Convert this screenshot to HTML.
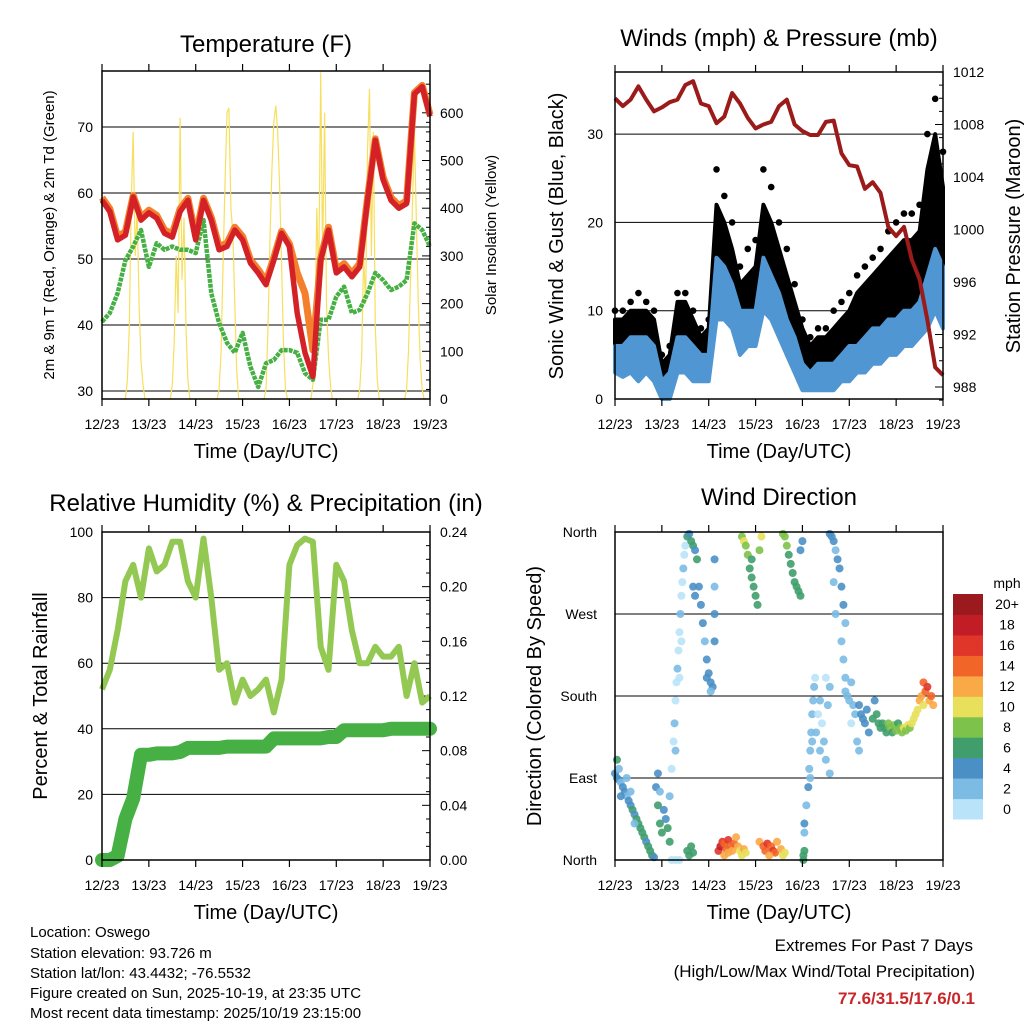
<!DOCTYPE html>
<html><head><meta charset="utf-8"><title>Oswego Station Meteogram</title>
<style>
html,body{margin:0;padding:0;background:#fff;}
svg{display:block;font-family:"Liberation Sans",Arial,sans-serif;}
</style></head>
<body>
<svg id="root" width="1024" height="1024" viewBox="0 0 1024 1024" xmlns="http://www.w3.org/2000/svg">
<rect x="0" y="0" width="1024" height="1024" fill="#fff"/>
<g id="p1"></g>
<g id="p2"></g>
<g id="p3"></g>
<g id="p4"></g>
<g id="titles">
<text x="266" y="52" font-size="24" text-anchor="middle">Temperature (F)</text>
<text x="779" y="46" font-size="24" text-anchor="middle">Winds (mph) &amp; Pressure (mb)</text>
<text x="266" y="511" font-size="24" text-anchor="middle">Relative Humidity (%) &amp; Precipitation (in)</text>
<text x="779" y="505" font-size="24" text-anchor="middle">Wind Direction</text>
<text x="266" y="458" font-size="20" text-anchor="middle">Time (Day/UTC)</text>
<text x="779" y="458" font-size="20" text-anchor="middle">Time (Day/UTC)</text>
<text x="266" y="919" font-size="20" text-anchor="middle">Time (Day/UTC)</text>
<text x="779" y="919" font-size="20" text-anchor="middle">Time (Day/UTC)</text>
<text transform="translate(54,235) rotate(-90)" font-size="15" text-anchor="middle">2m &amp; 9m T (Red, Orange) &amp; 2m Td (Green)</text>
<text transform="translate(496,235) rotate(-90)" font-size="15" text-anchor="middle">Solar Insolation (Yellow)</text>
<text transform="translate(563,236) rotate(-90)" font-size="20" text-anchor="middle">Sonic Wind &amp; Gust (Blue, Black)</text>
<text transform="translate(1020,236) rotate(-90)" font-size="20" text-anchor="middle">Station Pressure (Maroon)</text>
<text transform="translate(47,696) rotate(-90)" font-size="20" text-anchor="middle">Percent &amp; Total Rainfall</text>
<text transform="translate(541,696) rotate(-90)" font-size="20" text-anchor="middle">Direction (Colored By Speed)</text>
<g font-size="15">
<text x="30" y="937">Location: Oswego</text>
<text x="30" y="958">Station elevation: 93.726 m</text>
<text x="30" y="978">Station lat/lon: 43.4432; -76.5532</text>
<text x="30" y="998">Figure created on Sun, 2025-10-19, at 23:35 UTC</text>
<text x="30" y="1018">Most recent data timestamp: 2025/10/19 23:15:00</text>
</g>
<text x="973" y="951" font-size="17" text-anchor="end">Extremes For Past 7 Days</text>
<text x="975" y="977" font-size="17" text-anchor="end">(High/Low/Max Wind/Total Precipitation)</text>
<text x="975" y="1004" font-size="17" font-weight="bold" fill="#c8262a" text-anchor="end">77.6/31.5/17.6/0.1</text>
</g>
</svg>
<script>
// ---------- data (4-hour steps, t = 0..168 h) ----------
var dayLabels = ["12/23","13/23","14/23","15/23","16/23","17/23","18/23","19/23"];
var temp2m = [58.9,57.2,52.9,53.6,59.4,55.9,57,56.2,53.9,53.3,57.2,58.9,52.9,58.9,55.9,51.4,51.9,54.4,52.9,49.4,47.9,46.1,49.8,53.9,51.9,41.8,35.8,32.2,49.8,54.4,47.9,48.8,47.3,48.8,58.9,68,62,58.9,57.7,58.4,75,76.1,71.6];
var temp9m = [59.3,57.6,53.4,54.1,59.6,56.3,57.4,56.6,54.4,53.8,57.6,59.2,53.4,59.2,56.3,51.9,52.4,54.8,53.4,49.9,48.4,46.6,50.2,54.2,52.3,47.9,44.8,36.2,50.2,54.8,48.4,49.3,47.8,49.3,59.2,68.2,62.4,59.3,58.1,58.8,75.2,76.3,71.9];
var dewpoint = [40.5,41.8,44.8,49.8,51.9,54.4,48.8,52.4,51.4,51.9,51.4,51.4,50.9,55.9,44.8,40.3,37.3,35.8,38.8,33.7,30.6,34.2,34.7,36.2,36.2,35.8,32.7,31.7,40.8,40.8,44.3,45.8,41.8,42.3,44.8,47.9,46.8,45.3,45.8,46.8,55.4,54.4,51.9];
// solar insolation, hourly for hours 11..23 of each day
var solarDay0 = [0,0,40,150,420,560,300,400,200,80,30,0,0];
var solarDay1 = [0,30,120,300,180,590,250,380,150,40,0,0,0];
var solarDay2 = [0,20,100,280,450,600,610,400,350,200,60,0,0];
var solarDay3 = [0,20,150,330,480,580,615,560,440,280,110,20,0];
var solarDay4 = [0,30,120,400,250,685,300,600,200,90,30,0,0];
var solarDay5 = [0,20,90,300,200,520,650,300,560,150,40,0,0];
var solarDay6 = [0,20,100,250,400,560,380,200,80,20,0,0,0];
var pressure = [1010.0,1009.4,1009.9,1010.9,1009.9,1009.0,1009.3,1009.7,1009.9,1011.0,1011.3,1009.6,1009.4,1008.1,1008.6,1010.4,1009.6,1008.5,1007.7,1008.0,1008.2,1009.4,1009.9,1008.0,1007.5,1007.2,1007.2,1008.2,1008.3,1005.8,1004.9,1004.8,1003.1,1003.6,1002.8,1000.2,999.5,1000.2,997.7,996.2,993.1,989.5,988.9];
var windLow  = [3,2.5,3,2,3,2,0,0,3,3,2,2,2,9,9,8,5,6,6,10,9,7,5,3,1,1,1,1,1,2,2,3,3,4,4,5,5,6,6,7,8,10,8];
var windHigh = [6,6,7,7,7,6,2,3,7,7,6,5,5,16,15,13,10,10,10,16,14,12,9,7,4,3,4,4,4,5,6,6,7,8,8,9,9,10,10,11,14,17,15];
var gustLow  = [5,5,5,5,6,4,1,1,6,6,4,3,4,14,14,11,8,9,9,16,14,11,8,6,3,2,3,3,4,4,4,5,6,7,7,8,8,9,9,10,14,16,15];
var gustHigh = [9,9,10,10,10,9,4,5,11,11,9,7,8,22,20,17,13,14,15,22,20,17,14,11,8,6,7,7,8,9,10,12,13,14,15,16,17,18,18,19,26,30,24];
var gustMax  = [10,10,11,12,11,10,5,6,12,12,10,8,9,26,23,20,15,17,18,26,24,20,17,13,9,7,8,8,10,11,12,14,15,16,17,19,20,21,21,22,30,34,28];
var rhValues = [52,58,70,85,90,80,95,88,90,97,97,85,80,98,80,58,60,48,55,50,52,55,45,55,90,96,98,97,65,58,90,85,70,60,60,65,62,62,65,50,60,48,50];
var precipTotal = [0,0,0.003,0.03,0.045,0.077,0.077,0.078,0.078,0.078,0.079,0.082,0.082,0.082,0.082,0.082,0.083,0.083,0.083,0.083,0.083,0.083,0.089,0.089,0.089,0.089,0.089,0.089,0.089,0.09,0.09,0.095,0.095,0.095,0.095,0.095,0.095,0.096,0.096,0.096,0.096,0.096,0.096];
// wind direction scatter: time (h), direction (deg), speed (mph)
var dirTime = [0,1,2,3,4,5,6,7,8,9,10,11,12,13,14,15,16,17,18,19,20,1,2,3,6,8,10,
 21,22,23,24,25,26,27,28,22,23,
 28,29,30,30.5,31,31.5,32,32.5,33,33.5,34,34.5,35,35.5,36,31,33,34,29,31,33,
 37,38,39,40,41,42,40,41,37,38,39,40,
 43,44,45,46,47,48,49,50,51,51,51,51,47,49,
 53,54,55,56,57,58,59,60,61,62,63,64,65,66,67,56,58,
 65,66,67,68,69,70,71,72,73,74,75,70,
 74,76,77,78,80,81,82,83,85,86,87,79,
 86,87,88,89,90,91,92,93,94,95,95,96,
 96.5,97,97,96.5,
 97,98,99,99.5,100,100.5,101,101.5,102,102.5,100,101,
 103,104,105,106,107,108,109,110,105,108,110,
 110,111,112,113,114,115,116,117,118,112,116,117,118,113,
 118,119,120,121,122,123,124,125,121,
 125,126,127,128,129,130,132,133,134,135,136,
 137,138,139,140,141,142,143,144,145,146,147,148,149,150,151,152,153,154,
 155,156,157,158,159,160,161,162,163,158];
var dirDeg = [95,90,88,85,80,75,70,65,60,55,50,45,40,35,30,25,20,15,10,5,3,110,100,70,90,75,40,
 80,60,40,30,55,45,35,20,95,75,
 70,100,130,150,175,195,210,230,250,270,290,305,320,335,345,120,200,240,0,0,0,
 355,358,350,345,340,330,300,290,10,5,15,8,
 300,280,260,240,220,205,195,190,240,270,300,330,200,185,
 10,15,20,18,12,22,15,10,18,25,15,10,5,12,8,5,8,
 355,350,345,335,320,310,300,290,280,340,355,330,
 20,15,10,18,15,10,8,20,12,5,8,5,
 358,355,345,335,325,315,305,300,295,290,340,350,
 0,10,40,5,
 30,60,80,100,120,140,160,175,190,200,90,130,
 140,160,175,150,130,110,170,190,120,200,95,
 358,355,350,340,330,320,300,280,260,305,240,220,200,270,
 185,180,175,195,170,160,130,120,150,
 170,160,155,150,165,140,155,175,160,150,145,
 150,145,140,150,145,140,148,142,150,145,140,145,142,148,145,150,155,160,
 165,175,180,195,185,190,175,180,170,170];
var dirSpeed = [4,5,4,3,4,4,3,5,4,6,5,6,7,6,7,6,5,7,6,6,5,6,3,4,3,3,2,
 5,6,6,7,4,4,7,6,4,3,
 2,1,1,2,1,1,2,1,1,2,1,1,2,1,1,2,1,1,1,1,1,
 6,5,6,6,5,6,5,4,6,6,7,6,
 4,4,4,3,4,5,4,4,4,4,3,4,4,3,
 16,18,17,15,14,16,15,13,14,12,13,11,10,12,11,13,12,
 9,10,9,8,7,7,6,7,6,8,10,7,
 12,14,15,16,15,16,14,12,13,11,10,13,
 8,9,8,7,7,6,7,7,6,6,5,5,
 6,6,5,6,
 3,3,4,3,2,3,2,2,2,1,3,3,
 2,1,2,1,2,3,2,3,2,1,2,
 4,4,4,3,4,4,5,5,3,3,2,2,2,2,
 2,2,2,2,3,3,3,2,1,
 4,4,4,4,5,4,6,5,6,7,6,
 7,7,7,8,8,7,8,9,7,8,9,10,9,10,9,10,10,11,
 11,12,13,14,15,16,13,14,12,10];
var speedColors = ["#b8e3f8","#7bbbe4","#4a90c5","#3f9e6b","#7dc24b","#e8e05a","#f9a945","#f26529","#e0362a","#c21d26","#9b1a1e"];
var speedLabels = ["0","2","4","6","8","10","12","14","16","18","20+"];
var tempTicks = [30,40,50,60,70];
var solarTicks = [0,100,200,300,400,500,600];
var windTicks = [0,10,20,30];
var pressTicks = [988,992,996,1000,1004,1008,1012];
var rhTicks = [0,20,40,60,80,100];
var precipTicks = ["0.00","0.04","0.08","0.12","0.16","0.20","0.24"];
var dirTicks = [0,90,180,270,360];
var dirTickLabels = ["North","East","South","West","North"];

// ---------- helpers ----------
var NS = "http://www.w3.org/2000/svg";
function mk(tag, parent){ var e = document.createElementNS(NS, tag); parent.appendChild(e); return e; }
function sa(e, o){ for (var k in o) e.setAttribute(k, o[k]); return e; }
var STEP = 4;
function X1(t){ return 102 + t*328/168; }
function X2(t){ return 615 + t*328/168; }
function yT(v){ return 391 - (v-30)*6.6; }
function ySol(v){ return 399 - v*0.477; }
function yW(v){ return 399 - v*8.83; }
function yP(v){ return 387 - (v-988)*13.125; }
function yRH(v){ return 860 - v*3.28; }
function yPr(v){ return 860 - v*1366.7; }
function yD(d){ return 860 - d*328/360; }
function pts(arr, xf, yf){ return arr.map(function(v,i){ return xf(i*STEP).toFixed(1)+","+yf(v).toFixed(1); }).join(" "); }

function frame(g, x, y, w, h, xf, bottom, top, name){
  var r = mk("rect", g);
  sa(r, {x:x, y:y, width:w, height:h, fill:"none", stroke:"#000", "stroke-width":1.5});
  
  
  for (var d=0; d<=7; d++){
    var tx = xf(d*24);
    var t1 = mk("line", g);
    sa(t1, {x1:tx, x2:tx, y1:bottom, y2:bottom+7, stroke:"#000", "stroke-width":1.2});
    
    
    var t2 = mk("line", g);
    sa(t2, {x1:tx, x2:tx, y1:top, y2:top-7, stroke:"#000", "stroke-width":1.2});
    
    
    var lb = mk("text", g);
    sa(lb, {x:tx, y:bottom+30, "font-size":14, "text-anchor":"middle"});
    lb.textContent = dayLabels[d];
    
    
  }
}
function hgrid(g, x0, x1, y, name){
  var l = mk("line", g);
  sa(l, {x1:x0, x2:x1, y1:y, y2:y, stroke:"#000", "stroke-width":1});
  
  
}
function label(g, x, y, txt, anchor, name){
  var t = mk("text", g);
  sa(t, {x:x, y:y+5, "font-size":14, "text-anchor":anchor});
  t.textContent = txt;
  
  
}
function rtick(g, x, y, len){
  var l = mk("line", g);
  sa(l, {x1:x, x2:x-len, y1:y, y2:y, stroke:"#000", "stroke-width":1});
  
  
}

// ---------- panel 1: temperature ----------
(function(){
  var g = document.getElementById("p1");
  tempTicks.forEach(function(v){ hgrid(g,102,430,yT(v),'temp-gridline'); label(g,93,yT(v),String(v),"end",'temp-tick-label'); });
  solarTicks.forEach(function(v){ rtick(g,430,ySol(v),8); label(g,440,ySol(v),String(v),"start",'solar-tick-label'); });
  for (var s=20; s<680; s+=20){ if (s%100) rtick(g,430,ySol(s),4); }
  var solarDays = [solarDay0,solarDay1,solarDay2,solarDay3,solarDay4,solarDay5,solarDay6];
  var sp = [];
  solarDays.forEach(function(arr,d){ arr.forEach(function(v,h){ sp.push(X1(d*24+11+h).toFixed(1)+","+ySol(v).toFixed(1)); }); });
  var sl = mk("polyline", g);
  sa(sl, {points:sp.join(" "), fill:"none", stroke:"#f7df5e", "stroke-width":1.2});
  
  
  var dl = mk("polyline", g);
  sa(dl, {points:pts(dewpoint,X1,yT), fill:"none", stroke:"#46b045", "stroke-width":4.5, "stroke-dasharray":"4 1", "stroke-linejoin":"round"});
  
  
  var ol = mk("polyline", g);
  sa(ol, {points:pts(temp9m,X1,yT), fill:"none", stroke:"#f47f2c", "stroke-width":7, "stroke-linejoin":"round"});
  
  
  var rl = mk("polyline", g);
  sa(rl, {points:pts(temp2m,X1,yT), fill:"none", stroke:"#d42127", "stroke-width":5.5, "stroke-linejoin":"round"});
  
  
  frame(g,102,71,328,328,X1,399,71,'temperature');
})();

// ---------- panel 2: winds & pressure ----------
(function(){
  var g = document.getElementById("p2");
  windTicks.forEach(function(v){ hgrid(g,615,943,yW(v),'wind-gridline'); label(g,603,yW(v),String(v),"end",'wind-tick-label'); });
  pressTicks.forEach(function(v){ rtick(g,943,yP(v),8); label(g,953,yP(v),String(v),"start",'pressure-tick-label'); });
  for (var p=987; p<1013; p++){ if ((p-988)%4) rtick(g,943,yP(p),4); }
  function band(lo, hi, color, name){
    var up = hi.map(function(v,i){ return X2(i*STEP).toFixed(1)+","+yW(v).toFixed(1); });
    var dn = lo.map(function(v,i){ return X2(i*STEP).toFixed(1)+","+yW(v).toFixed(1); }).reverse();
    var pg = mk("polygon", g);
    sa(pg, {points:up.concat(dn).join(" "), fill:color, stroke:color, "stroke-width":4, "stroke-linejoin":"round"});
    
    
  }
  band(gustLow, gustHigh, "#000", 'gust-band');
  gustMax.forEach(function(v,i){
    var c = mk("circle", g);
    sa(c, {cx:X2(i*STEP), cy:yW(v), r:3.3, fill:"#000"});
    
    
  });
  band(windLow, windHigh, "#4f96d2", 'wind-band');
  var pl = mk("polyline", g);
  sa(pl, {points:pts(pressure,X2,yP), fill:"none", stroke:"#9b1b1b", "stroke-width":4, "stroke-linejoin":"round"});
  
  
  frame(g,615,72,328,327,X2,399,72,'winds');
})();

// ---------- panel 3: RH & precipitation ----------
(function(){
  var g = document.getElementById("p3");
  rhTicks.forEach(function(v){ hgrid(g,102,430,yRH(v),'rh-gridline'); label(g,93,yRH(v),String(v),"end",'rh-tick-label'); });
  precipTicks.forEach(function(v){ var y = yPr(parseFloat(v)); rtick(g,430,y,8); label(g,440,y,v,"start",'precip-tick-label'); });
  for (var q=0.01; q<0.24; q+=0.01){ if (Math.round(q*100)%4) rtick(g,430,yPr(q),4); }
  var pr = mk("polyline", g);
  sa(pr, {points:pts(precipTotal,X1,yPr), fill:"none", stroke:"#46b045", "stroke-width":14, "stroke-linejoin":"round", "stroke-linecap":"round"});
  
  
  var rh = mk("polyline", g);
  sa(rh, {points:pts(rhValues,X1,yRH), fill:"none", stroke:"#93c953", "stroke-width":6, "stroke-linejoin":"round"});
  
  
  frame(g,102,532,328,328,X1,860,532,'humidity');
})();

// ---------- panel 4: wind direction ----------
(function(){
  var g = document.getElementById("p4");
  dirTicks.forEach(function(v,i){ hgrid(g,615,943,yD(v),'direction-gridline'); label(g,597,yD(v),dirTickLabels[i],"end",'direction-tick-label'); });
  dirTime.forEach(function(t,i){
    var bin = Math.min(10, Math.floor(dirSpeed[i]/2));
    var c = mk("circle", g);
    sa(c, {cx:X2(t), cy:yD(dirDeg[i]), r:4, fill:speedColors[bin], "fill-opacity":0.9});
    
    
  });
  frame(g,615,532,328,328,X2,860,532,'direction');
  var lg = mk("g", g);
  
  
  var u = mk("text", lg);
  sa(u, {x:1007, y:588, "font-size":14, "text-anchor":"middle"});
  u.textContent = "mph";
  
  
  var bh = 225/11;
  speedColors.forEach(function(col,i){
    var y = 819 - (i+1)*bh;
    var r = mk("rect", lg);
    sa(r, {x:953, y:y.toFixed(1), width:30, height:(bh+0.5).toFixed(1), fill:col});
    
    
    var t = mk("text", lg);
    sa(t, {x:1007, y:(y+bh/2+5).toFixed(1), "font-size":14, "text-anchor":"middle"});
    t.textContent = speedLabels[i];
    
    
  });
})();
</script>
</body></html>
